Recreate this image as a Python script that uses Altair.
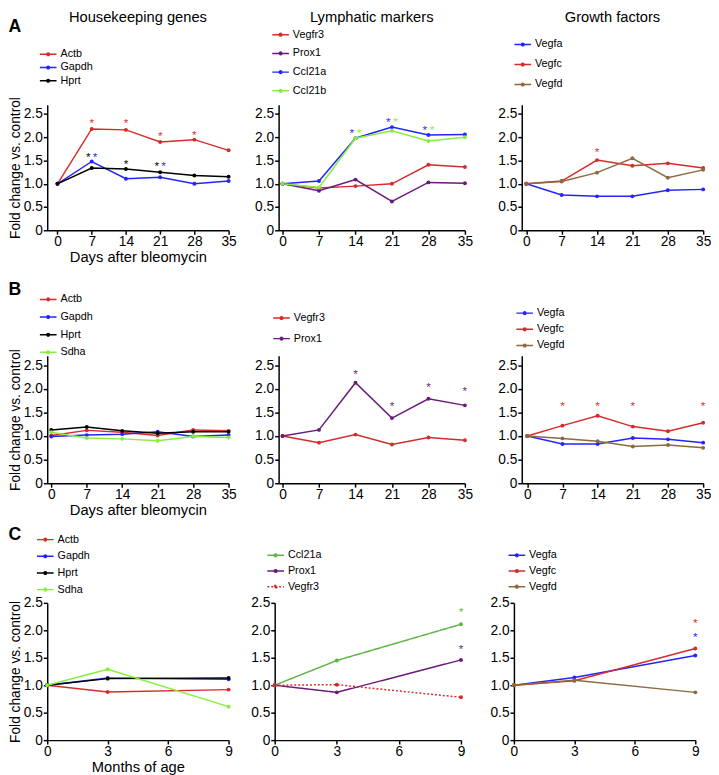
import altair as alt
import pandas as pd

FONT = "Liberation Sans"
RED = "#d62b2b"
BLUE = "#2424ff"
BLACK = "#000000"
LIME = "#84f03c"
PURPLE = "#6a1a7a"
BROWN = "#8b6a3f"
GREEN = "#5db543"

# ---------------- data ----------------
days = [0, 7, 14, 21, 28, 35]
months = [0, 3, 9]
day_ticks = [0, 7, 14, 21, 28, 35]
month_ticks = [0, 3, 6, 9]
y_ticks = [0, 0.5, 1.0, 1.5, 2.0, 2.5]

# Row A (days after bleomycin)
a_actb = [1.0, 2.18, 2.16, 1.90, 1.95, 1.72]
a_gapdh = [1.0, 1.48, 1.11, 1.14, 1.00, 1.06]
a_hprt = [1.0, 1.34, 1.32, 1.25, 1.18, 1.15]

a_vegfr3 = [1.0, 0.91, 0.95, 1.00, 1.41, 1.36]
a_prox1 = [1.0, 0.85, 1.09, 0.62, 1.03, 1.01]
a_ccl21a = [1.0, 1.06, 1.98, 2.22, 2.05, 2.06]
a_ccl21b = [1.0, 0.92, 1.98, 2.14, 1.92, 2.00]

a_vegfa = [1.0, 0.76, 0.73, 0.73, 0.86, 0.88]
a_vegfc = [1.0, 1.06, 1.51, 1.39, 1.44, 1.34]
a_vegfd = [1.0, 1.05, 1.24, 1.55, 1.13, 1.30]

# Row B (days after bleomycin)
b_actb = [1.01, 1.12, 1.08, 1.01, 1.13, 1.11]
b_gapdh = [0.99, 1.02, 1.04, 1.09, 0.99, 1.02]
b_hprt = [1.13, 1.19, 1.11, 1.06, 1.09, 1.09]
b_sdha = [1.08, 0.96, 0.94, 0.90, 0.99, 0.97]

b_vegfr3 = [1.0, 0.86, 1.03, 0.82, 0.97, 0.91]
b_prox1 = [1.0, 1.13, 2.13, 1.38, 1.79, 1.65]

b_vegfa = [1.0, 0.83, 0.83, 0.96, 0.93, 0.86]
b_vegfc = [1.0, 1.22, 1.43, 1.20, 1.10, 1.28]
b_vegfd = [1.0, 0.95, 0.89, 0.78, 0.81, 0.75]

# Row C (months of age)
c_actb = [1.0, 0.875, 0.92]
c_gapdh = [1.0, 1.13, 1.11]
c_hprt = [1.0, 1.12, 1.13]
c_sdha = [1.0, 1.29, 0.61]

c_ccl21a = [1.0, 1.45, 2.11]
c_prox1 = [1.0, 0.87, 1.46]
c_vegfr3 = [1.0, 1.01, 0.78]

c_vegfa = [1.0, 1.14, 1.54]
c_vegfc = [1.0, 1.08, 1.67]
c_vegfd = [1.0, 1.09, 0.87]

# significance asterisks: x, y, gene
a1_star_x = [7, 14, 21, 28, 6.3, 7.7, 14, 20.3, 21.7]
a1_star_y = [2.35, 2.35, 2.08, 2.11, 1.63, 1.63, 1.48, 1.43, 1.43]
a1_star_g = ["Actb", "Actb", "Actb", "Actb", "Hprt", "Gapdh", "Hprt", "Hprt", "Gapdh"]

a2_star_x = [13.3, 14.7, 20.3, 21.7, 27.3, 28.7]
a2_star_y = [2.15, 2.15, 2.38, 2.38, 2.21, 2.21]
a2_star_g = ["Ccl21a", "Ccl21b", "Ccl21a", "Ccl21b", "Ccl21a", "Ccl21b"]

a3_star_x = [14]
a3_star_y = [1.74]
a3_star_g = ["Vegfc"]

b2_star_x = [14, 21, 28, 35]
b2_star_y = [2.37, 1.68, 2.09, 2.00]
b2_star_g = ["Prox1", "Prox1", "Prox1", "Prox1"]

b3_star_x = [7, 14, 21, 35]
b3_star_y = [1.68, 1.68, 1.68, 1.68]
b3_star_g = ["Vegfc", "Vegfc", "Vegfc", "Vegfc"]

c2_star_x = [9, 9]
c2_star_y = [2.37, 1.70]
c2_star_g = ["Ccl21a", "Prox1"]

c3_star_x = [9, 9]
c3_star_y = [2.17, 1.93]
c3_star_g = ["Vegfc", "Vegfa"]

# ---------------- helpers ----------------
SYMBOL = "M-2,0H2M0.32,0A0.32,0.32,0,1,1,-0.32,0A0.32,0.32,0,1,1,0.32,0"
LABEL_EXPR = "datum.value == 0 ? '0' : format(datum.value, '.1f')"


def long_df(xs, names, series):
    rows = []
    for name, vals in zip(names, series):
        for x, v in zip(xs, vals):
            rows.append({"x": x, "y": v, "gene": name})
    return pd.DataFrame(rows)


def panel(xs, names, series, colors, stars, xdomain, xvalues, ydomain,
          width, height, leg, xtitle=None, ytitle=None, title=None, dashes=None):
    lx, ly, rp = leg
    df = long_df(xs, names, series)
    cscale = alt.Scale(domain=names, range=colors)
    legend = alt.Legend(
        orient="none", legendX=lx, legendY=ly, title=None,
        symbolType=SYMBOL, symbolSize=72.25, symbolStrokeWidth=1.5,
        labelFont=FONT, labelFontSize=11, labelColor="black",
        rowPadding=rp, labelOffset=7, padding=0, offset=0,
    )
    xaxis = alt.Axis(values=xvalues, title=xtitle, labelFlush=False, labelOverlap=False,
                     titleFontSize=15, titlePadding=1, labelPadding=1)
    yaxis = alt.Axis(values=y_ticks, title=ytitle, labelExpr=LABEL_EXPR, labelOverlap=False,
                     titleFontSize=14, titlePadding=1, labelPadding=1)
    xs_scale = alt.Scale(domain=xdomain, nice=False, zero=False)
    ys_scale = alt.Scale(domain=ydomain, nice=False)
    enc = dict(
        x=alt.X("x:Q", scale=xs_scale, axis=xaxis),
        y=alt.Y("y:Q", scale=ys_scale, axis=yaxis),
        color=alt.Color("gene:N", scale=cscale, legend=legend),
    )
    if dashes is not None:
        enc["strokeDash"] = alt.StrokeDash("gene:N", scale=alt.Scale(domain=names, range=dashes),
                                           legend=legend)
    line = alt.Chart(df).mark_line(
        strokeWidth=1.5,
        point=alt.OverlayMarkDef(filled=True, size=16),
    ).encode(**enc)
    layers = [line]
    if stars is not None:
        sx, sy, sg = stars
        sdf = pd.DataFrame({"x": sx, "y": sy, "gene": sg})
        st = alt.Chart(sdf).mark_text(
            text="*", fontSize=12, font=FONT, baseline="alphabetic", dy=6.5
        ).encode(
            x=alt.X("x:Q", scale=xs_scale, axis=xaxis),
            y=alt.Y("y:Q", scale=ys_scale, axis=yaxis),
            color=alt.Color("gene:N", scale=cscale, legend=None),
        )
        layers.append(st)
    props = dict(width=width, height=height)
    if title is not None:
        text, off = title
        props["title"] = alt.TitleParams(text, fontSize=15, fontWeight="normal", font=FONT,
                                         color="black", anchor="middle", frame="group",
                                         offset=off)
    return alt.layer(*layers).properties(**props)


def indep(c):
    return c.resolve_scale(color="independent", strokeDash="independent").resolve_legend(
        color="independent", strokeDash="independent")


def row(panels, letter, off):
    left = indep(alt.hconcat(panels[0], panels[1], spacing=18))
    return indep(alt.hconcat(left, panels[2], spacing=25).properties(
        title=alt.TitleParams(letter, fontSize=18, fontWeight="bold", font=FONT,
                              color="black", anchor="start", offset=off)
    ))


YA = [0, 2.7]
YC = [0, 2.5]
W1, W2, W3 = 185, 190, 185
HA, HB, HC = 128, 130, 140

house = ["Actb", "Gapdh", "Hprt"]
house4 = ["Actb", "Gapdh", "Hprt", "Sdha"]
lymphA = ["Vegfr3", "Prox1", "Ccl21a", "Ccl21b"]
lymphB = ["Vegfr3", "Prox1"]
lymphC = ["Ccl21a", "Prox1", "Vegfr3"]
growth = ["Vegfa", "Vegfc", "Vegfd"]

pA1 = panel(days, house, [a_actb, a_gapdh, a_hprt], [RED, BLUE, BLACK],
            (a1_star_x, a1_star_y, a1_star_g), [-2.1, 35], day_ticks, YA, W1, HA,
            (-4.5, -57, 1.5), xtitle="Days after bleomycin", ytitle="Fold change vs. control",
            title=("Housekeeping genes", 24))
pA2 = panel(days, lymphA, [a_vegfr3, a_prox1, a_ccl21a, a_ccl21b], [RED, PURPLE, BLUE, LIME],
            (a2_star_x, a2_star_y, a2_star_g), [-0.75, 35], day_ticks, YA, W2, HA,
            (-3.5, -77, 7.1), title=("Lymphatic markers", 4))
pA3 = panel(days, growth, [a_vegfa, a_vegfc, a_vegfd], [BLUE, RED, BROWN],
            (a3_star_x, a3_star_y, a3_star_g), [-0.9, 35], day_ticks, YA, W3, HA,
            (-4.5, -67, 8.4), title=("Growth factors", 14))

pB1 = panel(days, house4, [b_actb, b_gapdh, b_hprt, b_sdha], [RED, BLUE, BLACK, LIME],
            None, [-0.8, 35], day_ticks, YA, W1, HB,
            (-4.5, -63, 6), xtitle="Days after bleomycin", ytitle="Fold change vs. control")
pB2 = panel(days, lymphB, [b_vegfr3, b_prox1], [RED, PURPLE],
            (b2_star_x, b2_star_y, b2_star_g), [-0.75, 35], day_ticks, YA, W2, HB,
            (-2.5, -44, 9))
pB3 = panel(days, growth, [b_vegfa, b_vegfc, b_vegfd], [BLUE, RED, BROWN],
            (b3_star_x, b3_star_y, b3_star_g), [-1.1, 35], day_ticks, YA, W3, HB,
            (-2.5, -49, 4.5))

pC1 = panel(months, house4, [c_actb, c_gapdh, c_hprt, c_sdha], [RED, BLUE, BLACK, LIME],
            None, [0, 9], month_ticks, YC, W1, HC,
            (-7.5, -70, 5), xtitle="Months of age", ytitle="Fold change vs. control")
pC2 = panel(months, lymphC, [c_ccl21a, c_prox1, c_vegfr3], [GREEN, PURPLE, RED],
            (c2_star_x, c2_star_y, c2_star_g), [0, 9], month_ticks, YC, W2, HC,
            (-4.5, -54, 4), dashes=[[1, 0], [1, 0], [2, 2]])
pC3 = panel(months, growth, [c_vegfa, c_vegfc, c_vegfd], [BLUE, RED, BROWN],
            (c3_star_x, c3_star_y, c3_star_g), [0, 9], month_ticks, YC, W3, HC,
            (-2.5, -54, 4))

rowA = row([pA1, pA2, pA3], "A", -26)
rowB = row([pB1, pB2, pB3], "B", -5)
rowC = row([pC1, pC2, pC3], "C", -10)

top = indep(alt.vconcat(rowA, rowB, spacing=17))

chart = indep(alt.vconcat(top, rowC, spacing=9)).properties(
    padding={"top": -5, "left": 0, "right": 0, "bottom": 0}
).configure_axis(
    grid=False, domainColor="black", domainWidth=1.5, tickColor="black", tickWidth=1.5,
    tickSize=4, labelFont=FONT, labelFontSize=14, labelColor="black",
    titleFont=FONT, titleFontWeight="normal", titleColor="black",
).configure_view(stroke=None)

chart.save("out.html", embed_options={"renderer": "svg", "actions": False})
